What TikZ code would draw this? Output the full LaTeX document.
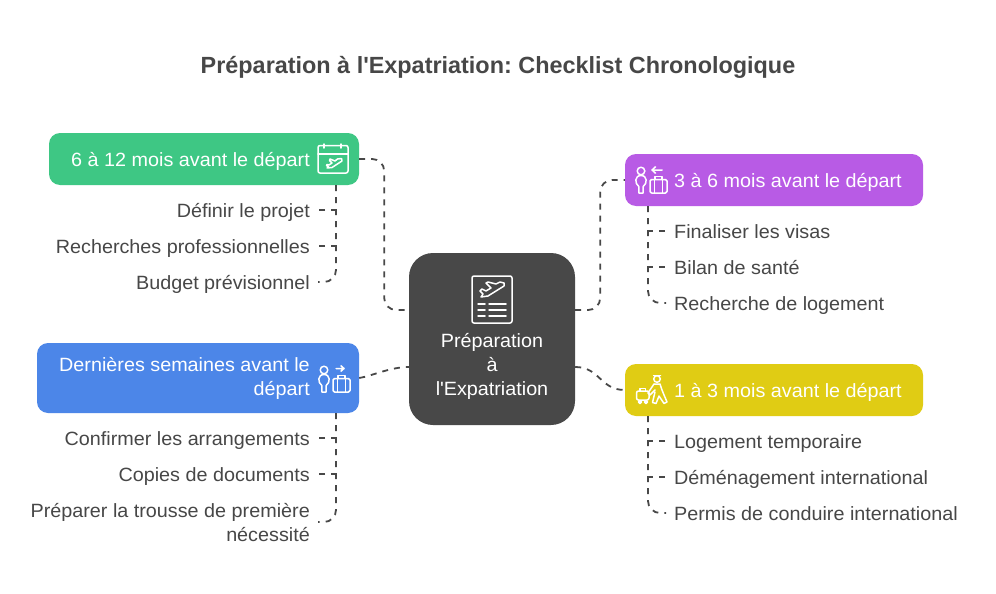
\documentclass[tikz,border=0pt]{standalone}
\usepackage{fontspec}
\setmainfont[FakeStretch=1.03]{Liberation Sans}
\newfontfamily\titlefont{Liberation Sans}
\frenchspacing
\definecolor{cgreen}{HTML}{3EC784}
\definecolor{cpurple}{HTML}{B85BE5}
\definecolor{cblue}{HTML}{4C86E8}
\definecolor{cyellow}{HTML}{E0CC14}
\definecolor{cdark}{HTML}{484848}
\definecolor{ctext}{HTML}{474747}
\tikzset{
  catbox/.style={draw=none,rounded corners=11pt,inner sep=0pt},
  catlabel/.style={text=white,inner sep=0pt,font=\fontsize{19.2}{24}\selectfont},
  itemL/.style={text=ctext,inner sep=0pt,anchor=base east,align=right,font=\fontsize{19.2}{24}\selectfont},
  itemR/.style={text=ctext,inner sep=0pt,anchor=base west,font=\fontsize{19.2}{24}\selectfont},
  link/.style={draw=cdark,line width=1.8pt,dash pattern=on 6pt off 6pt,rounded corners=12pt},
  tee/.style={draw=cdark,line width=1.8pt,dash pattern=on 6pt off 6pt},
  icon/.style={draw=white,line width=1.5pt,line cap=round,line join=round,fill=none},
}
\newcommand{\personbag}[1]{%
  \draw[icon] (6,5) circle (3.8);
  \draw[icon] (3.8,27) -- (3.8,20.5) .. controls (-0.5,17.5) and (-0.5,9.5) .. (6,9.5) .. controls (12.5,9.5) and (12.5,17.5) .. (8.2,20.5) -- (8.2,27) -- cycle;
  \draw[icon,rounded corners=1.5pt] (15,13.5) rectangle (32,27);
  \draw[icon] (20,13.5) -- (20,10.5) -- (27,10.5) -- (27,13.5);
  \draw[icon] (19.5,13.5) -- (19.5,27) (27.5,13.5) -- (27.5,27);
  #1
}
\begin{document}
\begin{tikzpicture}[x=1pt,y=-1pt]
\useasboundingbox (0,0) rectangle (996,594);
\fill[white] (0,0) rectangle (996,594);

\node[text=ctext,font=\titlefont\fontsize{23.4}{28}\bfseries\selectfont,inner sep=0pt] (title) at (498,67.5) {Préparation à l\textquotesingle Expatriation: Checklist Chronologique};

% boxes
\node[catbox,fill=cdark,rounded corners=24pt,minimum width=166pt,minimum height=172pt] (hub) at (492,339) {};
\node[catbox,fill=cgreen,minimum width=310pt,minimum height=52pt] (boxA) at (204,159) {};
\node[catbox,fill=cpurple,minimum width=298pt,minimum height=52pt] (boxB) at (774,180) {};
\node[catbox,fill=cblue,minimum width=322pt,minimum height=70pt] (boxC) at (198,378) {};
\node[catbox,fill=cyellow,minimum width=298pt,minimum height=52pt] (boxD) at (774,390) {};

% labels
\node[catlabel,anchor=base east] (lblA) at (310,166) {6 à 12 mois avant le départ};
\node[catlabel,anchor=base west] (lblB) at (674,187) {3 à 6 mois avant le départ};
\node[catlabel,anchor=east,align=right] (lblC) at (310,378.5) {Dernières semaines avant le\\départ};
\node[catlabel,anchor=base west] (lblD) at (674,397) {1 à 3 mois avant le départ};
\node[text=white,inner sep=0pt,align=center,font=\fontsize{19.2}{24}\selectfont] (hubtxt) at (492,366.5) {Préparation\\à\\l\textquotesingle Expatriation};

% items
\node[itemL] (a1) at (310,217) {Définir le projet};
\node[itemL] (a2) at (310,253) {Recherches professionnelles};
\node[itemL] (a3) at (310,289) {Budget prévisionnel};
\node[itemR] (b1) at (674,238) {Finaliser les visas};
\node[itemR] (b2) at (674,274) {Bilan de santé};
\node[itemR] (b3) at (674,310) {Recherche de logement};
\node[itemL] (c1) at (310,445) {Confirmer les arrangements};
\node[itemL] (c2) at (310,481) {Copies de documents};
\node[text=ctext,inner sep=0pt,anchor=east,align=right,font=\fontsize{19.2}{24}\selectfont] (c3) at (310,522.5) {Préparer la trousse de première\\nécessité};
\node[itemR] (d1) at (674,448) {Logement temporaire};
\node[itemR] (d2) at (674,484) {Déménagement international};
\node[itemR] (d3) at (674,520) {Permis de conduire international};

% hub connectors
\draw[link] (boxA.east) -- ++(25,0) |- ([yshift=29pt]hub.west);
\draw[link] ([yshift=29pt]hub.east) -- ++(25,0) |- (boxB.west);
\draw[link] (boxC.east) .. controls (372,376) and (390,367) .. ([yshift=-28pt]hub.west);
\draw[link] ([yshift=-28pt]hub.east) .. controls (600,367) and (600,390) .. (boxD.west);

% trunks
\coordinate (ta) at (336,185);
\coordinate (tb) at (648,206);
\coordinate (tc) at (336,413);
\coordinate (td) at (648,416);
\draw[tee] (ta) -- (336,210) -- ([xshift=8pt,yshift=7pt]a1.base east);
\draw[tee] (ta) -- (336,246) -- ([xshift=8pt,yshift=7pt]a2.base east);
\draw[link] (ta) -- (336,282) -- ([xshift=8pt,yshift=7pt]a3.base east);
\draw[tee] (tb) -- (648,231) -- ([xshift=-8pt,yshift=7pt]b1.base west);
\draw[tee] (tb) -- (648,267) -- ([xshift=-8pt,yshift=7pt]b2.base west);
\draw[link] (tb) -- (648,303) -- ([xshift=-8pt,yshift=7pt]b3.base west);
\draw[tee] (tc) -- (336,438) -- ([xshift=8pt,yshift=7pt]c1.base east);
\draw[tee] (tc) -- (336,474) -- ([xshift=8pt,yshift=7pt]c2.base east);
\draw[link] (tc) -- (336,522) -- (318,522);
\draw[tee] (td) -- (648,441) -- ([xshift=-8pt,yshift=7pt]d1.base west);
\draw[tee] (td) -- (648,477) -- ([xshift=-8pt,yshift=7pt]d2.base west);
\draw[link] (td) -- (648,513) -- ([xshift=-8pt,yshift=7pt]d3.base west);

% calendar icon
\begin{scope}[shift={(318,144)}]
  \draw[icon,rounded corners=2pt] (0,1.5) rectangle (30,29);
  \draw[icon] (0,10) -- (30,10);
  \draw[icon] (6,0) -- (6,4) (23,0) -- (23,4);
  \draw[icon] (9,24) -- (14,23.5) -- (24,17) -- (23.5,14.5) -- (19.5,15) -- (17,17) -- (12,15) -- (11.5,16.5) -- (14,19) -- (11,21) -- (9,20.5) -- (8.5,21.5) -- (10.5,23);
\end{scope}

% hub icon
\begin{scope}[shift={(472,276)}]
  \draw[icon,rounded corners=2pt] (0,0) rectangle (40,47);
  \draw[icon] (9,21) -- (16,20) -- (32,10) -- (32,7) -- (28,6) -- (24,8) -- (16,6) -- (14,7) -- (19,12) -- (14,15) -- (10,13) -- (8,15) -- (11,18) -- cycle;
  \draw[icon] (6,28) -- (13,28) (17,28) -- (34,28);
  \draw[icon] (6,34) -- (13,34) (17,34) -- (34,34);
  \draw[icon] (6,40) -- (13,40) (17,40) -- (34,40);
\end{scope}

% purple icon
\begin{scope}[shift={(635,166)}]
  \personbag{\draw[icon] (27,4) -- (17,4) (20.5,0.8) -- (17,4) -- (20.5,7.2);}
\end{scope}

% blue icon
\begin{scope}[shift={(318,365)}]
  \personbag{\draw[icon] (18,3.5) -- (26,3.5) (23,0.8) -- (26,3.5) -- (23,6.2);}
\end{scope}

% yellow icon
\begin{scope}[shift={(635,374)}]
  \draw[icon] (22,5) circle (3.3);
  \draw[icon] (18.5,1.5) -- (25.5,1.5);
  \draw[icon] (19,10) -- (25,10) .. controls (27,17) and (30,23) .. (32,28) -- (29,29.5) -- (24,22) -- (21,29.5) -- (17.5,28.5) -- (20,18);
  \draw[icon] (19,10) -- (13,19) -- (15,21) -- (20,16);
  \draw[icon,rounded corners=2pt] (1.5,17) rectangle (14,26);
  \draw[icon] (5,17) -- (5,14.5) -- (10.5,14.5) -- (10.5,17);
  \draw[icon] (5,28) circle (1.5) (11,28) circle (1.5);
\end{scope}
\end{tikzpicture}
\end{document}
